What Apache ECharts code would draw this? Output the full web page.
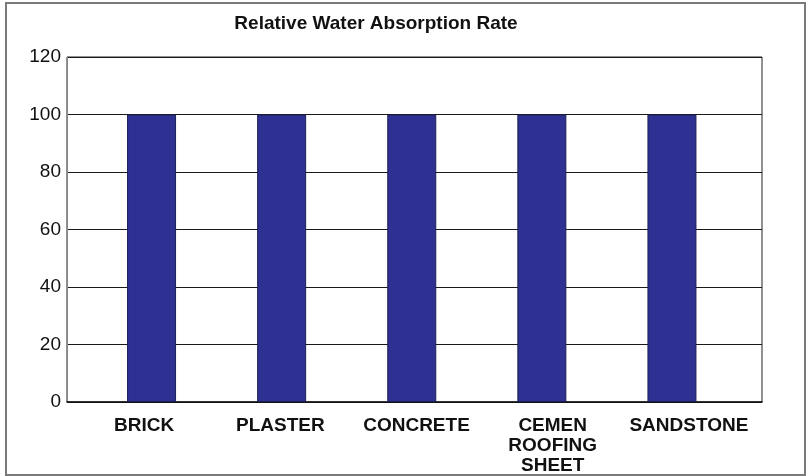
<!DOCTYPE html>
<html><head><meta charset="utf-8">
<script src="https://cdn.jsdelivr.net/npm/echarts@6/dist/echarts.min.js"></script>
<style>html,body{margin:0;padding:0;background:#fff}#c{width:810px;height:476px}</style>
</head><body><div id="c"></div>
<script>
const categories = ['BRICK', 'PLASTER', 'CONCRETE', 'CEMEN\nROOFING\nSHEET', 'SANDSTONE'];
const values = [100, 100, 100, 100, 100];
const yTicks = { min: 0, max: 120, interval: 20 };
const titleText = 'Relative Water Absorption Rate';

const chart = echarts.init(document.getElementById('c'), null, { renderer: 'canvas' });
const F = 'Arial, "Liberation Sans", Helvetica, sans-serif';
chart.setOption({
  animation: false,
  backgroundColor: '#fff',
  title: { text: titleText, left: 371, top: 9, textAlign: 'center',
    textStyle: { fontFamily: F, fontSize: 19, fontWeight: 'bold', color: '#111' } },
  graphic: [{ type: 'rect', shape: { x: 6, y: 3, width: 799, height: 472 },
    style: { fill: 'none', stroke: '#7a7a7a', lineWidth: 2 }, silent: true }],
  grid: [
    { left: 67, right: 48, top: 57, bottom: 74, show: true, borderColor: '#222', borderWidth: 1 },
    { left: 86.5, right: 73, top: 57, bottom: 74 },
    { left: 76, right: 53, top: 57, bottom: 74 }
  ],
  xAxis: [
    { gridIndex: 0, type: 'category', data: categories, axisLine: { show: true, lineStyle: { color: '#111', width: 1.5 } },
      axisTick: { show: false }, axisLabel: { show: false }, splitLine: { show: false } },
    { gridIndex: 1, type: 'category', data: categories, show: false },
    { gridIndex: 2, type: 'category', data: categories, axisLine: { show: false }, axisTick: { show: false },
      axisLabel: { margin: 20, fontFamily: F, fontSize: 19, fontWeight: 'bold', color: '#111', lineHeight: 20, interval: 0 } }
  ],
  yAxis: [
    { gridIndex: 0, type: 'value', min: yTicks.min, max: yTicks.max, interval: yTicks.interval,
      axisLine: { show: true, lineStyle: { color: '#888' } }, axisTick: { show: false },
      axisLabel: { margin: 6, fontFamily: F, fontSize: 19, color: '#111' },
      splitLine: { show: true, lineStyle: { color: '#1a1a1a', width: 1.2 } } },
    { gridIndex: 1, type: 'value', min: yTicks.min, max: yTicks.max, interval: yTicks.interval, show: false, splitLine: { show: false } },
    { gridIndex: 2, type: 'value', min: yTicks.min, max: yTicks.max, interval: yTicks.interval, show: false, splitLine: { show: false } }
  ],
  series: [{
    type: 'bar', xAxisIndex: 1, yAxisIndex: 1, data: values, barWidth: 49,
    itemStyle: { color: '#2E3192', borderColor: '#1c1f55', borderWidth: 1 }
  }]
});
</script></body></html>
